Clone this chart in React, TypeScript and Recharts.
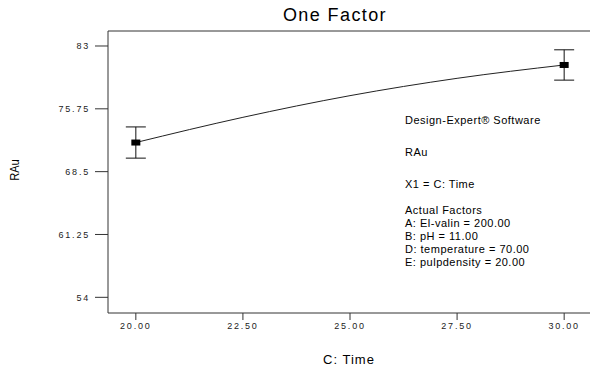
import React from "react";
import {
  ComposedChart,
  Line,
  Scatter,
  ErrorBar,
  XAxis,
  YAxis,
  ReferenceLine,
} from "recharts";

// model curve at each x tick
const timeTicks = [20, 22.5, 25, 27.5, 30];
const predicted = [71.86, 74.77, 77.27, 79.27, 80.81];

// design points with their error bars
const designTimes = [20, 30];
const designValues = [71.86, 80.81];
const designErrors = [1.8, 1.75];

const yTicks = [54, 61.25, 68.5, 75.75, 83];
const xDomain = [19.35, 30.65];
const yDomain = [52.19, 84.73];

const notes = [
  { text: "Design-Expert\u00ae Software", top: 114 },
  { text: "RAu", top: 146 },
  { text: "X1 = C: Time", top: 178 },
  { text: "Actual Factors", top: 204 },
  { text: "A: El-valin = 200.00", top: 217 },
  { text: "B: pH = 11.00", top: 230 },
  { text: "D: temperature = 70.00", top: 243 },
  { text: "E: pulpdensity = 20.00", top: 256 },
];

const curve = timeTicks.map((x, i) => ({ x, y: predicted[i] }));
const points = designTimes.map((x, i) => ({ x, y: designValues[i], err: designErrors[i] }));

const font = "'Liberation Sans', Arial, sans-serif";
const tickStyle = { fontSize: 9, fill: "#222", fontFamily: font, letterSpacing: 1.8 };

const Square = (props: any) => (
  <rect x={props.cx - 4.5} y={props.cy - 3} width={9} height={6} fill="#000" />
);

export default function App() {
  return (
    <div
      style={{
        position: "fixed",
        left: 0,
        top: 0,
        width: 590,
        height: 376,
        overflow: "hidden",
        background: "#fff",
        fontFamily: font,
      }}
    >
      <div
        style={{
          position: "absolute",
          left: 0,
          width: 670,
          top: 5,
          textAlign: "center",
          fontSize: 18,
          letterSpacing: 1.4,
          color: "#000",
        }}
      >
        One Factor
      </div>

      <ComposedChart
        width={600}
        height={376}
        margin={{ top: 31, right: 8, bottom: 33, left: 0 }}
      >
        <XAxis
          dataKey="x"
          type="number"
          domain={xDomain}
          ticks={timeTicks}
          allowDataOverflow
          tickFormatter={(v) => v.toFixed(2)}
          height={30}
          tickSize={7}
          tickMargin={3}
          stroke="#333"
          tick={tickStyle}
        />
        <YAxis
          type="number"
          domain={yDomain}
          ticks={yTicks}
          allowDataOverflow
          width={108}
          tickSize={13}
          tickMargin={5}
          stroke="#333"
          tick={tickStyle}
        />
        <ReferenceLine y={yDomain[1]} stroke="#333" />
        <Line
          data={curve}
          dataKey="y"
          type="monotone"
          stroke="#222"
          strokeWidth={1}
          dot={false}
          isAnimationActive={false}
        />
        <Scatter data={points} dataKey="y" shape={Square} isAnimationActive={false}>
          <ErrorBar dataKey="err" direction="y" width={10} stroke="#111" strokeWidth={1} />
        </Scatter>
      </ComposedChart>

      {notes.map((n) => (
        <div
          key={n.text}
          style={{
            position: "absolute",
            left: 405,
            top: n.top,
            fontSize: 11,
            letterSpacing: 0.5,
            color: "#000",
            whiteSpace: "nowrap",
          }}
        >
          {n.text}
        </div>
      ))}

      <div
        style={{
          position: "absolute",
          left: 0,
          top: 160,
          width: 30,
          height: 20,
          fontSize: 13,
          lineHeight: "20px",
          textAlign: "center",
          transform: "rotate(-90deg) scaleX(0.85)",
          color: "#000",
        }}
      >
        RAu
      </div>

      <div
        style={{
          position: "absolute",
          left: 0,
          width: 698,
          top: 352,
          textAlign: "center",
          fontSize: 13,
          letterSpacing: 1,
          color: "#000",
        }}
      >
        C: Time
      </div>
    </div>
  );
}
